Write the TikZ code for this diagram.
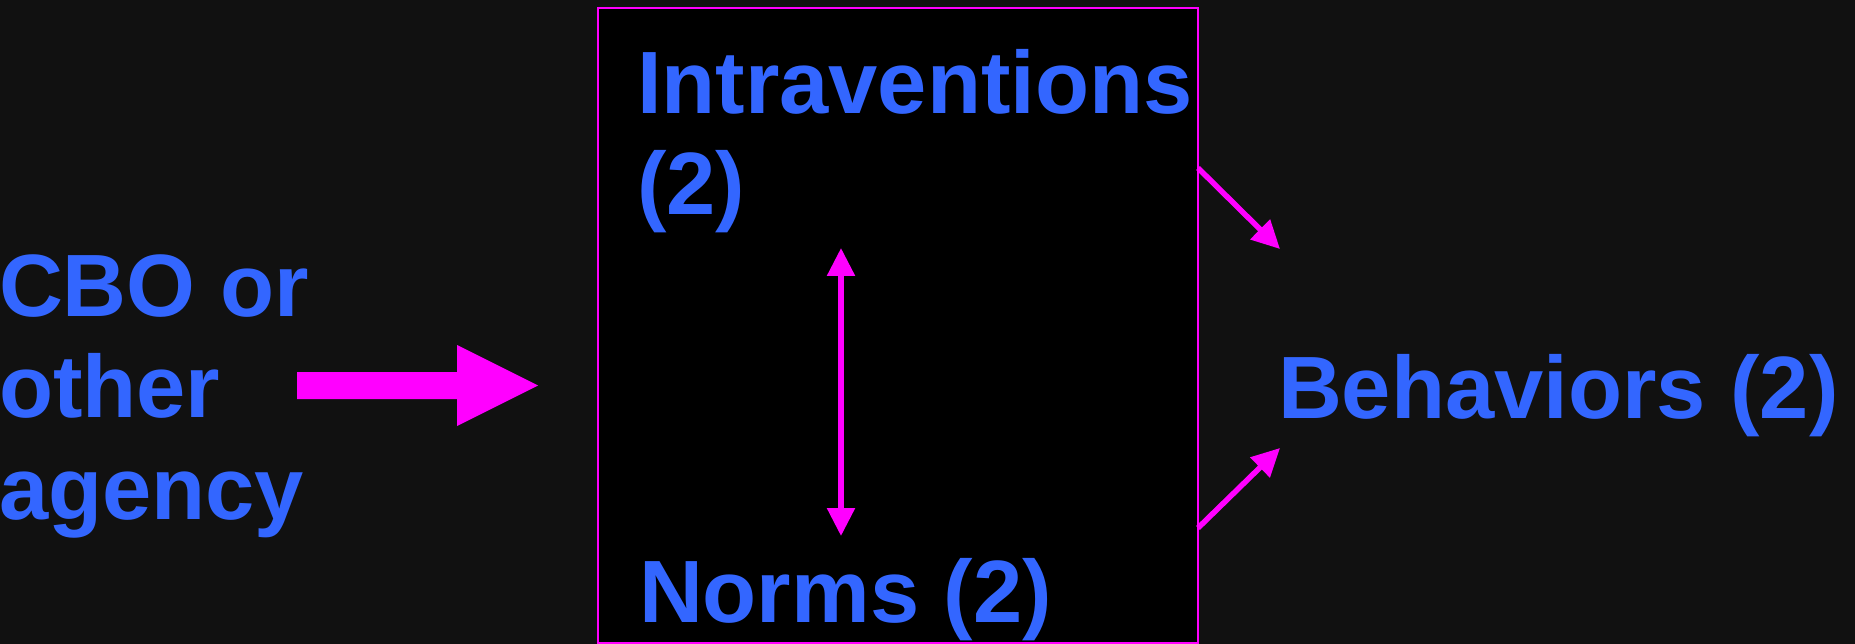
\documentclass[tikz,border=0pt]{standalone}
\usepackage{fontspec}
\setmainfont{Liberation Sans}
\usetikzlibrary{arrows.meta}
\definecolor{bgc}{HTML}{111111}
\definecolor{mag}{HTML}{FF00FF}
\definecolor{txtblue}{HTML}{3366FF}
\begin{document}
\begin{tikzpicture}[x=1pt,y=-1pt,
  lbl/.style={inner sep=0pt, outer sep=0pt, text=txtblue, align=left, anchor=base west,
    font=\fontsize{88.5}{101.5}\selectfont\bfseries},
  conn/.style={draw=mag, line width=5.5pt, -{Triangle[length=28pt,width=27pt]}},
  dconn/.style={draw=mag, line width=5.5pt, {Triangle[length=28pt,width=27pt]}-{Triangle[length=28pt,width=27pt]}}]
\useasboundingbox (0,0) rectangle (1855,644);
\fill[bgc] (0,0) rectangle (1855,644);
% central box
\draw[mag, line width=2pt, fill=black] (598,8) rectangle (1198,643);
% texts (multi-line nodes are anchored at the baseline of their last line)
\node[lbl] (cbo) at (-1,519) {CBO or\\other\\agency};
\node[lbl] (intra) at (637,215) {Intraventions\\(2)};
\node[lbl] (norms) at (639,622) {Norms (2)};
\node[lbl] (beh) at (1278,418) {Behaviors (2)};
% block arrow
\fill[mag] (297,372) -- (457,372) -- (457,345) -- (538,385.5) -- (457,426) -- (457,399) -- (297,399) -- cycle;
% double arrow
\coordinate (dtop) at (841,248);
\coordinate (dbot) at (841,536);
\draw[dconn] (dtop) -- (dbot);
% diagonal arrows
\coordinate (u1) at (1198,168);
\coordinate (u2) at (1280,249);
\coordinate (l1) at (1198,528);
\coordinate (l2) at (1280,448);
\draw[conn] (u1) -- (u2);
\draw[conn] (l1) -- (l2);
\end{tikzpicture}
\end{document}
